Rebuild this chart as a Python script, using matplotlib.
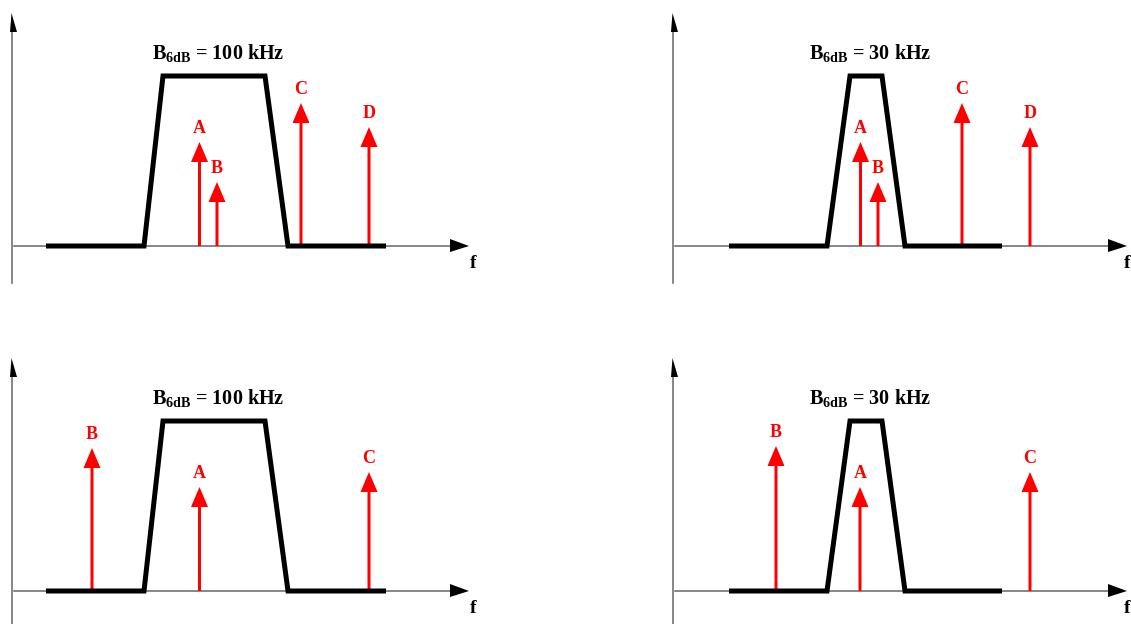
import matplotlib
matplotlib.use("Agg")
import matplotlib.pyplot as plt

plt.rcParams['font.family'] = ['Liberation Serif', 'DejaVu Serif']
plt.rcParams['mathtext.fontset'] = 'custom'
plt.rcParams['mathtext.rm'] = 'Liberation Serif:bold'
plt.rcParams['mathtext.bf'] = 'Liberation Serif:bold'

# %% data (x = frequency position, y = level, both in drawing units)
wide_x = [34, 132, 151, 253, 276, 374]
wide_y = [0, 0, 170, 170, 0, 0]
narrow_x = [56, 154, 177, 209, 232, 329]
narrow_y = [0, 0, 170, 170, 0, 0]

top_names = ['A', 'B', 'C', 'D']
top_freq = [187.5, 205, 289, 357]
top_level = [104, 64, 143, 119]

bl_names = ['B', 'A', 'C']
bl_freq = [80, 187.5, 357]
bl_level = [143, 104, 119]

br_names = ['B', 'A', 'C']
br_freq = [103, 187, 357]
br_level = [145, 104, 119]

bandwidths = ['100 kHz', '30 kHz', '100 kHz', '30 kHz']

# %% layout: panel region and axis origin in figure pixels
W, H = 1131, 624
panels = [
    # region (x0, x1, y0, y1), origin, f-axis tip, filter, tones, bandwidth
    ((0, 565, 0, 312), (12, 246), 457, (wide_x, wide_y), (top_names, top_freq, top_level), bandwidths[0]),
    ((565, W, 0, 312), (673, 246), 454, (narrow_x, narrow_y), (top_names, top_freq, top_level), bandwidths[1]),
    ((0, 565, 312, H), (12, 591), 457, (wide_x, wide_y), (bl_names, bl_freq, bl_level), bandwidths[2]),
    ((565, W, 312, H), (673, 591), 454, (narrow_x, narrow_y), (br_names, br_freq, br_level), bandwidths[3]),
]

fig = plt.figure(figsize=(W / 100, H / 100), dpi=100)

for (x0, x1, y0, y1), (ox, oy), tip, (fx, fy), (names, freq, level), bw in panels:
    ax = fig.add_axes([x0 / W, 1 - y1 / H, (x1 - x0) / W, (y1 - y0) / H])
    ax.set_xlim(x0 - ox, x1 - ox)
    ax.set_ylim(oy - y1, oy - y0)
    ax.axis('off')

    # axes with arrow heads
    ax.plot([0, 0], [-37, 214], color='#666666', lw=1.1, zorder=1)
    ax.fill([-2, 5, -0.5], [214, 214, 233], color='k', lw=0, zorder=1)
    ax.plot([2, tip - 19], [0, 0], color='#666666', lw=1.1, zorder=1)
    ax.fill([tip - 19, tip - 19, tip], [7, -6, 0], color='k', lw=0, zorder=1)
    if x1 - ox - tip > 12:
        ax.text(tip + 1, -9, 'f', fontsize=14, fontweight='bold',
                ha='left', va='top')
    else:
        # no room at the right edge of the figure: keep the label inside
        ax.text(x1 - ox - 1, -9, 'f', fontsize=14, fontweight='bold',
                ha='right', va='top')

    # filter shape
    ax.plot(fx, fy, color='k', lw=3.6, solid_joinstyle='miter',
            solid_capstyle='butt', zorder=3)
    centre = (fx[2] + fx[3]) / 2
    ax.text(centre + 4, 187, r'$\mathrm{B_{6dB}}$ = ' + bw, fontsize=14.5,
            fontweight='bold', ha='center', va='baseline')

    # signal lines
    for name, f, lv in zip(names, freq, level):
        ax.arrow(f, 0, 0, lv, width=3, head_width=17, head_length=20,
                 length_includes_head=True, fc='#ff0000', ec='none', zorder=2)
        ax.text(f, lv + 9, name, color='#ff0000', fontsize=13,
                fontweight='bold', ha='center', va='baseline')

fig.savefig('out.png', dpi=100)
